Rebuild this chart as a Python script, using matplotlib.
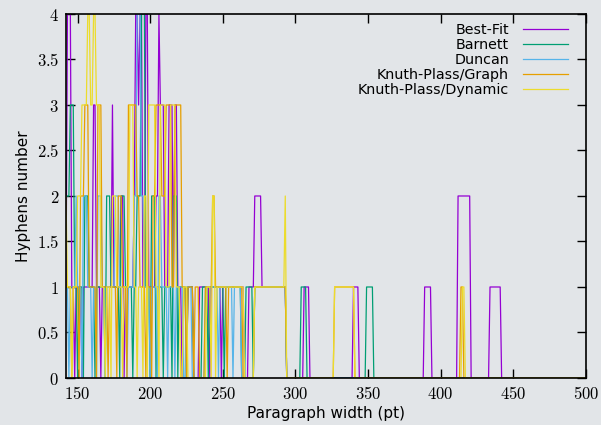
import numpy as np
from matplotlib import pyplot as plt

# nonzero runs: (first width, last width, hyphens)
best_fit = [(142, 142, 1), (143, 145, 4), (146, 147, 1), (149, 152, 1), (154, 160, 1), (161, 162, 3),
            (163, 165, 1), (167, 173, 1), (174, 174, 3), (175, 179, 1), (180, 181, 2), (183, 188, 1),
            (189, 189, 2), (190, 191, 4), (192, 192, 3), (193, 194, 4), (195, 196, 1), (197, 198, 4),
            (199, 203, 1), (204, 205, 2), (206, 206, 4), (207, 209, 3), (210, 212, 1), (213, 215, 3),
            (216, 216, 1), (217, 218, 3), (219, 221, 1), (226, 229, 1), (234, 240, 1), (242, 248, 1),
            (250, 264, 1), (268, 271, 1), (272, 276, 2), (277, 293, 1), (306, 309, 1), (340, 343, 1),
            (389, 393, 1), (412, 420, 2), (434, 441, 1)]
barnett = [(142, 144, 2), (145, 147, 3), (148, 149, 1), (151, 153, 1), (155, 157, 2), (158, 161, 1),
           (163, 168, 1), (170, 172, 2), (173, 178, 1), (180, 182, 2), (183, 187, 1), (189, 190, 1),
           (191, 193, 2), (194, 196, 4), (197, 199, 1), (201, 203, 2), (205, 208, 1), (210, 214, 1),
           (216, 218, 2), (220, 224, 1), (226, 229, 1), (236, 239, 1), (241, 250, 1), (252, 262, 1),
           (266, 270, 1), (272, 293, 1), (304, 307, 1), (349, 353, 1)]
duncan = [(142, 143, 1), (145, 148, 1), (149, 149, 2), (150, 152, 1), (154, 156, 2), (157, 159, 1),
          (161, 162, 1), (164, 166, 2), (167, 168, 1), (170, 175, 1), (176, 178, 2), (179, 183, 1),
          (185, 188, 1), (189, 190, 2), (191, 193, 4), (194, 195, 2), (196, 199, 1), (201, 204, 1),
          (206, 207, 2), (208, 211, 1), (213, 216, 1), (218, 222, 1), (225, 228, 1), (238, 246, 1),
          (248, 256, 1), (258, 262, 1), (272, 293, 1)]
kp_graph = [(142, 145, 1), (147, 150, 1), (152, 154, 2), (155, 157, 3), (158, 162, 1), (164, 166, 3),
            (167, 170, 1), (172, 176, 1), (178, 180, 2), (181, 183, 1), (185, 190, 3), (191, 192, 2),
            (193, 196, 1), (198, 200, 1), (202, 203, 2), (204, 207, 3), (208, 210, 2), (211, 214, 3),
            (215, 216, 1), (217, 221, 3), (222, 224, 1), (226, 229, 1), (231, 233, 1), (238, 242, 1),
            (243, 244, 2), (245, 252, 1), (254, 263, 1), (272, 293, 1), (327, 340, 1), (414, 415, 1)]
kp_dynamic = [(142, 142, 2), (143, 145, 1), (147, 149, 1), (150, 152, 2), (153, 156, 3), (157, 158, 4),
              (159, 160, 3), (161, 162, 4), (163, 165, 3), (166, 168, 1), (170, 172, 1), (174, 176, 2),
              (177, 180, 1), (182, 185, 1), (186, 188, 3), (189, 190, 1), (192, 194, 1), (196, 197, 2),
              (199, 203, 3), (204, 205, 1), (207, 210, 3), (211, 213, 1), (214, 217, 3), (218, 220, 1),
              (223, 225, 1), (239, 241, 1), (243, 244, 2), (246, 254, 1), (255, 264, 1), (272, 292, 1),
              (293, 293, 2), (327, 340, 1), (415, 416, 1)]

labels = ['Best-Fit', 'Barnett', 'Duncan', 'Knuth-Plass/Graph', 'Knuth-Plass/Dynamic']
colors = ['#9400d3', '#009e73', '#56b4e9', '#e69f00', '#ecdc2c']

widths = np.arange(142, 501)


def expand(runs):
    vals = np.zeros(len(widths))
    for a, b, v in runs:
        vals[(widths >= a) & (widths <= b)] = v
    return vals


plt.rcParams['mathtext.fontset'] = 'cm'
bg = '#e2e5e8'
fig = plt.figure(figsize=(6.01, 4.25), dpi=100, facecolor=bg)
ax = fig.add_axes([0.1098, 0.1106, 0.865, 0.8565], facecolor=bg)

for runs, lab, col in zip([best_fit, barnett, duncan, kp_graph, kp_dynamic], labels, colors):
    ax.plot(widths, expand(runs), color=col, lw=0.9, label=lab)

ax.set_xlim(142, 500)
ax.set_ylim(0, 4)
xt = np.arange(150, 501, 50)
yt = np.arange(0, 4.01, 0.5)
ax.set_xticks(xt)
ax.set_xticklabels(['$%d$' % v for v in xt], fontsize=12)
ax.set_yticks(yt)
ax.set_yticklabels(['$%g$' % v for v in yt], fontsize=12)
ax.tick_params(direction='in', length=6.5, width=1, top=True, right=True, pad=5)
for s in ax.spines.values():
    s.set_linewidth(1.2)

ax.set_xlabel('Paragraph width (pt)', fontsize=11, labelpad=2)
ax.set_ylabel('Hyphens number', fontsize=11, labelpad=4)

leg = ax.legend(loc='upper right', bbox_to_anchor=(0.976, 0.99), frameon=False, markerfirst=False,
                fontsize=10.3, handlelength=3.1, labelspacing=0.07, borderaxespad=0.0, handletextpad=1.0)
for t in leg.get_texts():
    t.set_ha('right')
leg._legend_box.align = 'right'

fig.savefig('out.png', dpi=100, facecolor=bg)
